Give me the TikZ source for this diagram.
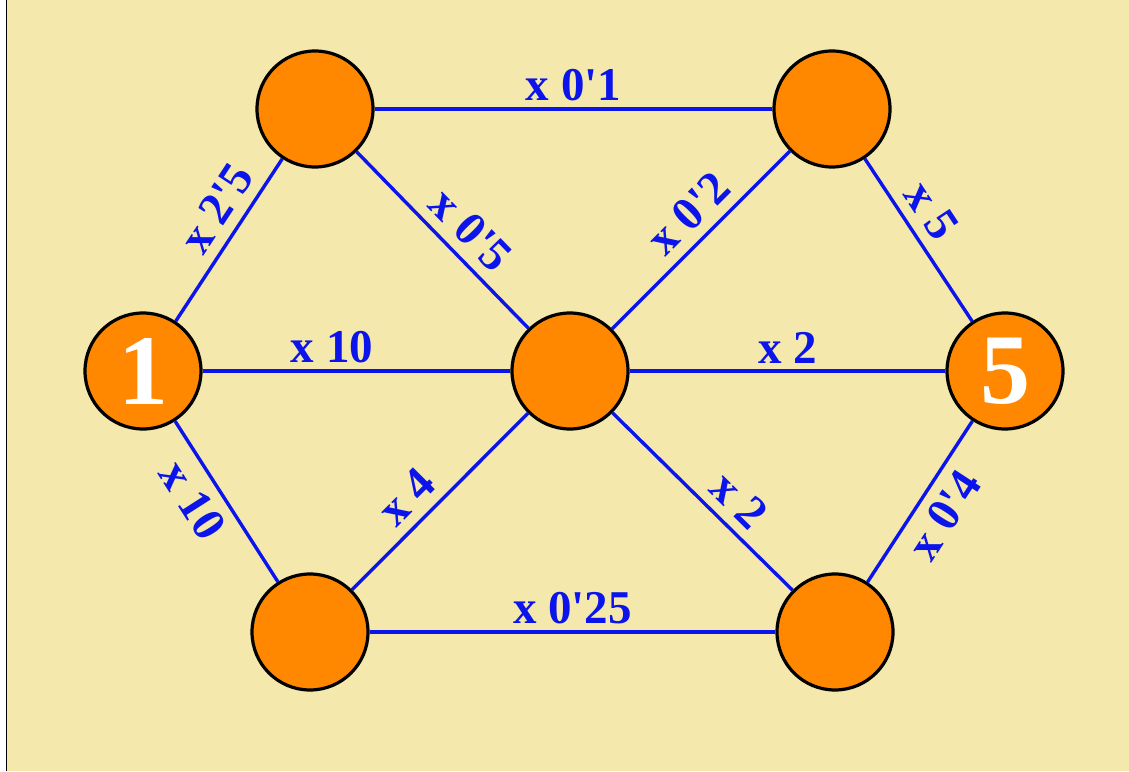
\documentclass[tikz,border=0pt]{standalone}
\usepackage{fontspec}
\newfontfamily\diagfont{Liberation Serif}
\usepackage{tikz}
\usetikzlibrary{positioning}

\definecolor{paper}{RGB}{245,232,172}
\definecolor{ballorange}{RGB}{255,136,0}
\definecolor{edgeblue}{RGB}{10,20,235}

\tikzset{
  ball/.style={circle, draw=black, line width=3.2pt, fill=ballorange,
    minimum size=116pt, inner sep=0pt, text=white,
    font=\diagfont\bfseries\fontsize{100}{100}\selectfont},
  edge/.style={edgeblue, line width=3.4pt},
  factor/.style={text=edgeblue, inner sep=3pt,
    font=\diagfont\bfseries\fontsize{47}{47}\selectfont}
}

\begin{document}
\begin{tikzpicture}[x=1pt,y=1pt]
    % --- page and background ---
    \useasboundingbox (0,0) rectangle (1129,771);
    \fill[white] (0,0) rectangle (1129,771);
    \fill[paper] (7,0) rectangle (1129,771);
    \draw[black, line width=1.5pt] (6.5,0) -- (6.5,771);

    % --- balls ---
    \node[ball] (one)  at (143,400)  {1};
    \node[ball] (tl)   at (315,662)  {};
    \node[ball] (tr)   at (832,662)  {};
    \node[ball] (mid)  at (570,400)  {};
    \node[ball] (five) at (1005,400) {5};
    \node[ball] (bl)   at (310,139)  {};
    \node[ball] (br)   at (835,139)  {};

    % --- horizontal edges ---
    \draw[edge] (tl) -- node[factor, above=3pt] {x 0'1} (tr);
    \draw[edge] (one) -- node[factor, pos=0.42, above=3pt] {x 10} (mid);
    \draw[edge] (mid) -- node[factor, above=3pt] {x 2} (five);
    \draw[edge] (bl) -- node[factor, above=3pt] {x 0'25} (br);

    % --- slanted edges ---
    \draw[edge] (one) -- node[factor, sloped, pos=0.6, above=7pt] {x 2'5} (tl);
    \draw[edge] (tl) -- node[factor, sloped, pos=0.55, above=7pt] {x 0'5} (mid);
    \draw[edge] (mid) -- node[factor, sloped, pos=0.54, above=7pt] {x 0'2} (tr);
    \draw[edge] (tr) -- node[factor, sloped, pos=0.41, above=7pt] {x 5} (five);
    \draw[edge] (one) -- node[factor, sloped, pos=0.4, below=7pt] {x 10} (bl);
    \draw[edge] (bl) -- node[factor, sloped, pos=0.42, above=7pt] {x 4} (mid);
    \draw[edge] (mid) -- node[factor, sloped, pos=0.6, above=7pt] {x 2} (br);
    \draw[edge] (br) -- node[factor, sloped, pos=0.51, below=7pt] {x 0'4} (five);
  \end{tikzpicture}
\end{document}
